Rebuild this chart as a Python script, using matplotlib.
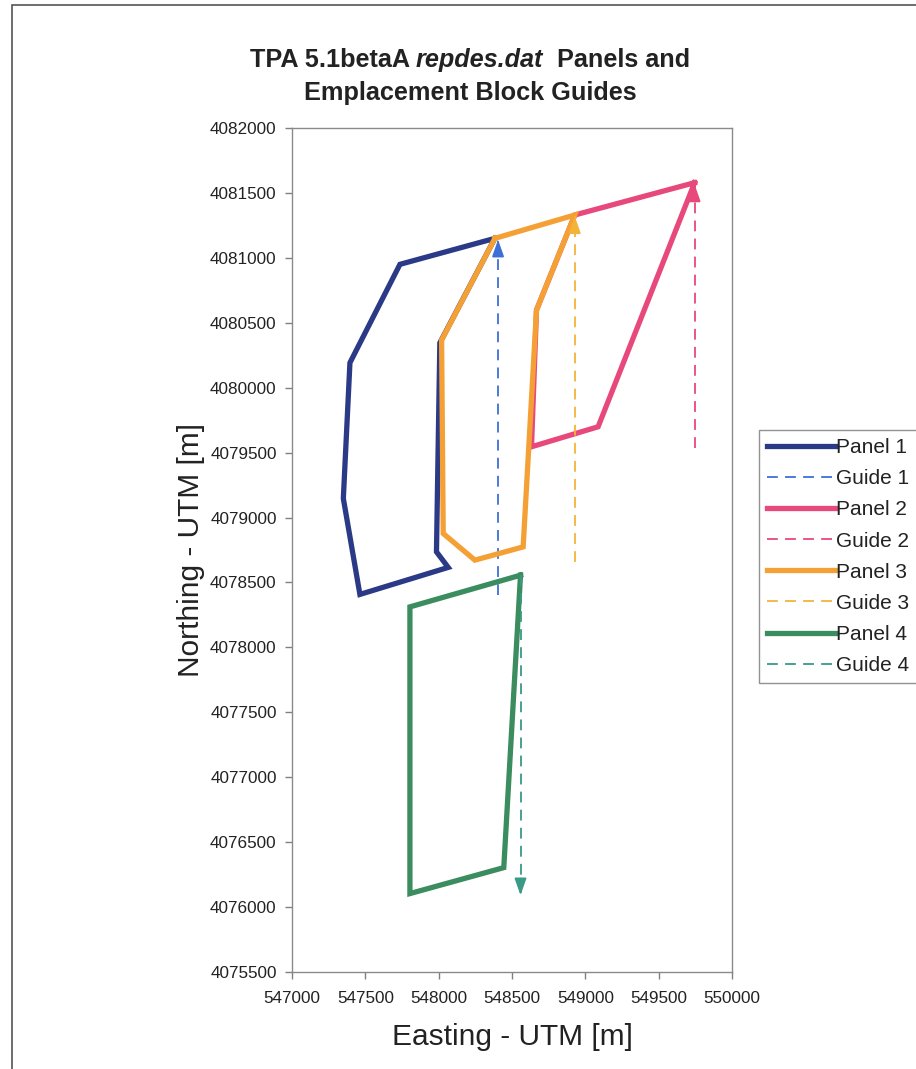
import matplotlib
matplotlib.use("Agg")
import matplotlib.pyplot as plt
from matplotlib.patches import Rectangle

plt.rcParams['font.family'] = ['Liberation Sans', 'DejaVu Sans']

# ---- data (UTM easting / northing, m) ----
panel1_e = [548383, 547736, 547395, 547350, 547463, 548065, 547985, 548008, 548383]
panel1_n = [4081150, 4080950, 4080192, 4079147, 4078408, 4078616, 4078736, 4080345, 4081150]
guide1_e = [548405, 548405]
guide1_n = [4078402, 4081140]

panel2_e = [549745, 549087, 548633, 548667, 548928, 549745]
panel2_n = [4081579, 4079699, 4079545, 4080598, 4081330, 4081579]
guide2_e = [549745, 549745]
guide2_n = [4079532, 4081565]

panel3_e = [548383, 548928, 548667, 548576, 548247, 548031, 548020, 548383]
panel3_n = [4081150, 4081330, 4080598, 4078774, 4078672, 4078877, 4080367, 4081150]
guide3_e = [548928, 548928]
guide3_n = [4078659, 4081320]

panel4_e = [548558, 547804, 547804, 548444, 548558]
panel4_n = [4078556, 4078312, 4076104, 4076304, 4078556]
guide4_e = [548558, 548558]
guide4_n = [4078556, 4076091]

x_ticks = [547000, 547500, 548000, 548500, 549000, 549500, 550000]
y_ticks = [4075500, 4076000, 4076500, 4077000, 4077500, 4078000, 4078500,
           4079000, 4079500, 4080000, 4080500, 4081000, 4081500, 4082000]

c_p1, c_g1 = '#2b3a86', '#3d6fd6'
c_p2, c_g2 = '#e8497c', '#e8497c'
c_p3, c_g3 = '#f5a035', '#f5b23a'
c_p4, c_g4 = '#3b8c5f', '#3a9a86'

W, H = 916, 1069
fig = plt.figure(figsize=(W / 100, H / 100), dpi=100)
fig.patches.append(Rectangle((12 / W, -0.01), 1.0, 1 - 5 / H + 0.01, transform=fig.transFigure,
                             fill=False, edgecolor='#555555', linewidth=1.2))

ax = fig.add_axes([292 / W, 1 - 972 / H, (732 - 292) / W, (972 - 128) / H])

lw_p = 3.8
lw_g = 1.3
ax.plot(panel1_e, panel1_n, color=c_p1, lw=lw_p, label='Panel 1', solid_joinstyle='miter')
ax.plot(guide1_e, guide1_n, color=c_g1, lw=lw_g, ls=(0, (6, 4)), label='Guide 1')
ax.plot(panel2_e, panel2_n, color=c_p2, lw=lw_p, label='Panel 2', solid_joinstyle='miter')
ax.plot(guide2_e, guide2_n, color=c_g2, lw=lw_g, ls=(0, (6, 4)), label='Guide 2')
ax.plot(panel3_e, panel3_n, color=c_p3, lw=lw_p, label='Panel 3', solid_joinstyle='miter')
ax.plot(guide3_e, guide3_n, color=c_g3, lw=lw_g, ls=(0, (6, 4)), label='Guide 3')
ax.plot(panel4_e, panel4_n, color=c_p4, lw=lw_p, label='Panel 4', solid_joinstyle='miter')
ax.plot(guide4_e, guide4_n, color=c_g4, lw=lw_g, ls=(0, (6, 4)), label='Guide 4')

# arrow heads at guide ends
for ge, gn, col in [(guide1_e, guide1_n, c_g1), (guide2_e, guide2_n, c_g2),
                    (guide3_e, guide3_n, c_g3), (guide4_e, guide4_n, c_g4)]:
    ax.annotate('', xy=(ge[1], gn[1]), xytext=(ge[1], gn[1] - (gn[1] - gn[0]) * 0.03),
                arrowprops=dict(arrowstyle='-|>,head_length=0.85,head_width=0.3', color=col,
                                lw=lw_g, mutation_scale=12, shrinkA=0, shrinkB=0))

ax.set_xlim(547000, 550000)
ax.set_ylim(4075500, 4082000)
ax.set_xticks(x_ticks)
ax.set_yticks(y_ticks)
ax.set_xticklabels([str(v) for v in x_ticks])
ax.set_yticklabels([str(v) for v in y_ticks])
ax.tick_params(direction='out', length=5, width=1, color='#808080', labelsize=12.3,
               labelcolor='#222222')
ax.tick_params(axis='x', pad=9)
ax.tick_params(axis='y', pad=6)
for s in ax.spines.values():
    s.set_color('#8a8a8a')
    s.set_linewidth(1.0)

ax.set_xlabel('Easting - UTM [m]', fontsize=21.5, color='#222222', labelpad=12)
ax.set_ylabel('Northing - UTM [m]', fontsize=21.5, color='#222222', labelpad=4)

leg = fig.legend(loc='upper left', bbox_to_anchor=(759 / W, 1 - 430 / H),
                 bbox_transform=fig.transFigure, fontsize=15, frameon=True,
                 fancybox=False, edgecolor='#777777', handlelength=3.3,
                 handletextpad=0.0, labelspacing=0.58, borderpad=0.4,
                 borderaxespad=0.0)
leg.get_frame().set_linewidth(1.0)
for t in leg.get_texts():
    t.set_color('#222222')

# title with italic part
fig.canvas.draw()
r = fig.canvas.get_renderer()
tsize = 18.2
parts = [('TPA 5.1betaA ', 'normal'), ('repdes.dat', 'italic'), ('  Panels and', 'normal')]
objs = []
for txt, st in parts:
    objs.append(fig.text(0, 1 - 60 / H, txt, fontsize=tsize, fontweight='bold', style=st,
                         va='center', ha='left', color='#222222'))
widths = [o.get_window_extent(r).width for o in objs]
total = sum(widths)
x0 = 470 - total / 2
for o, w in zip(objs, widths):
    o.set_x(x0 / W)
    x0 += w
fig.text(470 / W, 1 - 93 / H, 'Emplacement Block Guides', fontsize=tsize, fontweight='bold',
         va='center', ha='center', color='#222222')

fig.savefig('out.png', dpi=100)
